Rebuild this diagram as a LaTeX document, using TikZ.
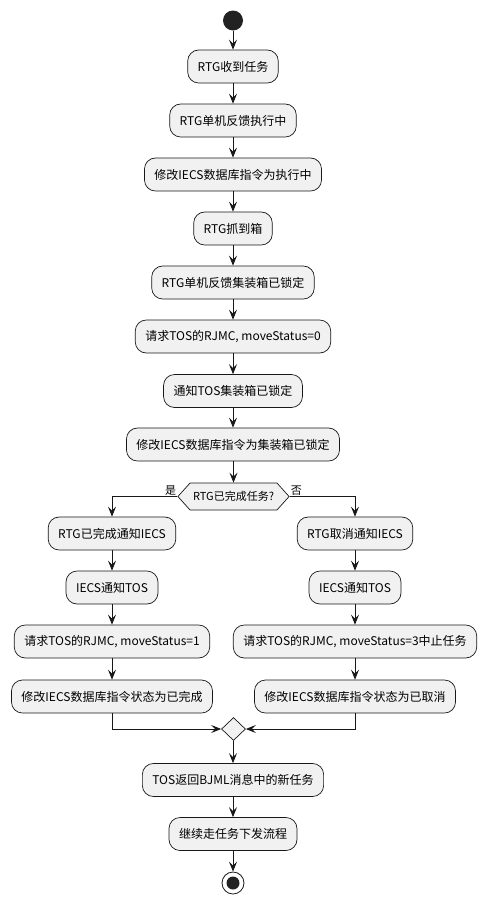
\documentclass[tikz,border=0pt]{standalone}
\usepackage{fontspec}
\setmainfont{Noto Sans CJK SC}
\usetikzlibrary{arrows.meta,shapes.geometric,shapes.symbols}
\definecolor{boxfill}{HTML}{F1F1F1}
\definecolor{edge}{HTML}{181818}
\definecolor{dot}{HTML}{222222}
\begin{document}
\begin{tikzpicture}[x=1pt,y=-1pt,
  act/.style={draw=edge,fill=boxfill,line width=0.7pt,rounded corners=11pt,
    minimum height=33pt,inner xsep=10pt,inner ysep=0pt,font=\fontsize{12}{14}\selectfont},
  flow/.style={draw=edge,line width=0.8pt,-{Stealth[length=10pt,width=8pt,inset=4pt]}},
  lbl/.style={font=\fontsize{11}{13}\selectfont,inner sep=0pt}]
\useasboundingbox (0,0) rectangle (489,903);
\node[circle,fill=dot,minimum size=20pt,inner sep=0pt] (start) at (233,20.5) {};
\node[act] (a1) at (233,66.5) {RTG收到任务};
\node[act] (a2) at (233,120.5) {RTG单机反馈执行中};
\node[act] (a3) at (233,174.5) {修改IECS数据库指令为执行中};
\node[act] (a4) at (233,228.5) {RTG抓到箱};
\node[act] (a5) at (233,282.5) {RTG单机反馈集装箱已锁定};
\node[act] (a6) at (233,336.5) {请求TOS的RJMC, moveStatus=0};
\node[act] (a7) at (233,391) {通知TOS集装箱已锁定};
\node[act] (a8) at (233,444.5) {修改IECS数据库指令为集装箱已锁定};
\node[shape=signal,signal to=west and east,signal pointer angle=96,draw=edge,fill=boxfill,
  line width=0.7pt,minimum height=27pt,inner xsep=3pt,inner ysep=0pt,
  font=\fontsize{11}{13}\selectfont] (d) at (233.5,496.5) {RTG已完成任务?};
\node[lbl,anchor=south east] (yes) at ([xshift=-1pt,yshift=1pt]d.west) {是};
\node[lbl,anchor=south west] (no) at ([xshift=1pt,yshift=1pt]d.east) {否};
\node[act] (l1) at (112,533.5) {RTG已完成通知IECS};
\node[act] (l2) at (112,587.5) {IECS通知TOS};
\node[act] (l3) at (112,641.5) {请求TOS的RJMC, moveStatus=1};
\node[act] (l4) at (112,696.5) {修改IECS数据库指令状态为已完成};
\node[act] (r1) at (355,533.5) {RTG取消通知IECS};
\node[act] (r2) at (355,587.5) {IECS通知TOS};
\node[act] (r3) at (355,641.5) {请求TOS的RJMC, moveStatus=3中止任务};
\node[act] (r4) at (355,696.5) {修改IECS数据库指令状态为已取消};
\node[diamond,draw=edge,fill=boxfill,line width=0.7pt,minimum width=24pt,minimum height=23pt,inner sep=0pt] (m) at (233.5,729) {};
\node[act] (b1) at (233,780) {TOS返回BJML消息中的新任务};
\node[act] (b2) at (233,834) {继续走任务下发流程};
\node[circle,draw=edge,line width=0.8pt,fill=white,minimum size=22pt,inner sep=0pt,
  path picture={\fill[dot] (path picture bounding box.center) circle (6.5pt);}] (end) at (233,883) {};
\draw[flow] (start) -- (a1);
\draw[flow] (a1) -- (a2);
\draw[flow] (a2) -- (a3);
\draw[flow] (a3) -- (a4);
\draw[flow] (a4) -- (a5);
\draw[flow] (a5) -- (a6);
\draw[flow] (a6) -- (a7);
\draw[flow] (a7) -- (a8);
\draw[flow] (a8.south -| d.north) -- (d.north);
\draw[flow] (d.west) -| (l1.north);
\draw[flow] (d.east) -| (r1.north);
\draw[flow] (l1) -- (l2);
\draw[flow] (l2) -- (l3);
\draw[flow] (l3) -- (l4);
\draw[flow] (r1) -- (r2);
\draw[flow] (r2) -- (r3);
\draw[flow] (r3) -- (r4);
\draw[flow] (l4.south) |- (m.west);
\draw[flow] (r4.south) |- (m.east);
\draw[flow] (m.south -| b1.north) -- (b1.north);
\draw[flow] (b1) -- (b2);
\draw[flow] (b2) -- (end);
\end{tikzpicture}
\end{document}
